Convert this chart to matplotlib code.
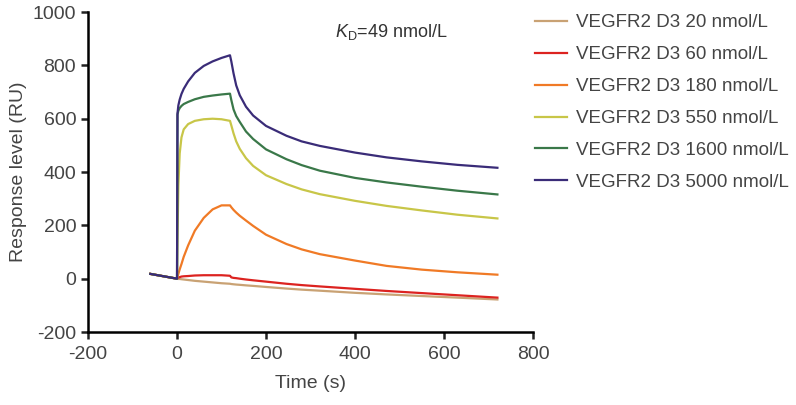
import matplotlib
matplotlib.use('Agg')
import matplotlib.pyplot as plt

plt.rcParams['font.family'] = ['Liberation Sans', 'DejaVu Sans']
plt.rcParams['mathtext.fontset'] = 'custom'
plt.rcParams['mathtext.rm'] = 'Liberation Sans'
plt.rcParams['mathtext.it'] = 'Liberation Sans:italic'
plt.rcParams['axes.unicode_minus'] = False

# time points (s), shared by all curves
time_s = [-60, 0, 1, 3, 6, 10, 15, 25, 40, 60, 80, 100, 119, 122, 127, 133,
          141, 155, 171, 200, 246, 280, 321, 400, 471, 550, 630, 720]

# response (RU) per concentration
ru_20 = [18, 0, 0, -1, -1, -2, -3, -5, -8, -11, -14, -17, -19, -20, -21, -22,
         -23, -25, -27, -31, -37, -41, -45, -53, -59, -65, -71, -78]
ru_60 = [18, 0, 2, 4, 6, 8, 9, 10, 12, 13, 13, 13, 11, 5, 3, 2,
         0, -3, -6, -11, -19, -24, -29, -38, -46, -54, -62, -71]
ru_180 = [18, 0, 6, 18, 35, 55, 82, 125, 180, 228, 260, 275, 275, 268, 258, 248,
          236, 218, 198, 165, 130, 110, 92, 68, 48, 34, 24, 15]
ru_550 = [18, 0, 150, 350, 470, 530, 560, 580, 592, 598, 600, 598, 592, 575, 545, 515,
          487, 452, 423, 388, 355, 335, 317, 292, 273, 256, 240, 226]
ru_1600 = [18, 0, 615, 630, 640, 648, 655, 663, 673, 682, 687, 691, 694, 670, 635, 610,
           588, 552, 524, 485, 448, 426, 405, 378, 361, 345, 330, 316]
ru_5000 = [18, 0, 620, 650, 672, 693, 712, 740, 772, 798, 815, 828, 838, 815, 770, 725,
           688, 645, 612, 573, 536, 515, 498, 473, 455, 440, 427, 416]

series = [ru_20, ru_60, ru_180, ru_550, ru_1600, ru_5000]
labels = ['VEGFR2 D3 20 nmol/L', 'VEGFR2 D3 60 nmol/L', 'VEGFR2 D3 180 nmol/L',
          'VEGFR2 D3 550 nmol/L', 'VEGFR2 D3 1600 nmol/L', 'VEGFR2 D3 5000 nmol/L']
colors = ['#c9a274', '#dc2320', '#f07a26', '#c8c648', '#3a7849', '#3a2c78']

fig = plt.figure(figsize=(7.96, 4.05), dpi=100)
ax = fig.add_axes([0.1106, 0.1802, 0.559, 0.790])

for vals, lab, col in zip(series, labels, colors):
    ax.plot(time_s, vals, color=col, lw=1.6, label=lab)

ax.set_xlim(-200, 800)
ax.set_ylim(-200, 1000)
ax.set_xticks([-200, 0, 200, 400, 600, 800])
ax.set_yticks([-200, 0, 200, 400, 600, 800, 1000])
for s in ['top', 'right']:
    ax.spines[s].set_visible(False)
for s in ['left', 'bottom']:
    ax.spines[s].set_linewidth(1.8)
ax.tick_params(width=1.8, length=5, labelsize=14, colors='#222222', labelcolor='#444444')
ax.tick_params(axis='x', pad=5)

ax.set_xlabel('Time (s)', fontsize=14, color='#444444', labelpad=9)
ax.set_ylabel('Response level (RU)', fontsize=14, color='#444444', labelpad=4)

ax.text(0.555, 0.9375, r'$K_{\mathrm{D}}$=49 nmol/L', transform=ax.transAxes,
        ha='left', va='center', fontsize=13, color='#333333')

ax.legend(loc='upper left', bbox_to_anchor=(0.988, 1.017), frameon=False,
          borderaxespad=0, fontsize=13.5, handlelength=1.7, handletextpad=0.5,
          labelspacing=0.79, labelcolor='#444444')

fig.savefig('out.png', dpi=100)
